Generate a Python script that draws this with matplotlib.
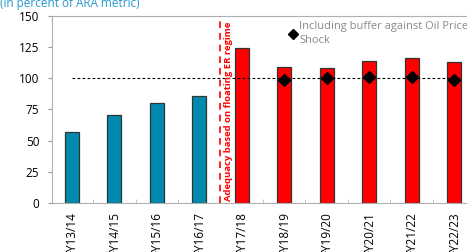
import matplotlib
matplotlib.use("Agg")
from matplotlib import pyplot as plt
import numpy as np

plt.rcParams['font.family'] = ['Open Sans', 'DejaVu Sans']

years = ["FY13/14", "FY14/15", "FY15/16", "FY16/17", "FY17/18",
         "FY18/19", "FY19/20", "FY20/21", "FY21/22", "FY22/23"]
fixed_er = [56.7, 70.5, 80.3, 85.8]
floating_er = [124, 109, 108, 113.5, 116, 113]
buffer_vals = [99, 100.6, 100.8, 101.4, 98.8]
ref_level = [100] * len(years)

TEAL = "#008BAE"
RED = "#FF0000"

fig = plt.figure(figsize=(4.67, 2.52), dpi=100)
ax = fig.add_axes([0.111, 0.194, 0.904, 0.743])

x = np.arange(len(years))
ax.bar(x[:4], fixed_er, width=0.33, color=TEAL, edgecolor="#333333", linewidth=0.9, zorder=2)
ax.bar(x[4:], floating_er, width=0.33, color=RED, edgecolor="#333333", linewidth=0.9, zorder=2)
ax.plot(np.append(x, 9.15), ref_level + [100], color="black", linestyle=(0, (2.5, 2)),
        linewidth=0.8, zorder=3)
ax.plot(x[5:], buffer_vals, linestyle="none", marker="D", markersize=6,
        color="black", zorder=4, label="Including buffer against Oil Price\nShock")

ax.axvline(3.5, color=RED, linestyle=(0, (4, 3)), linewidth=1.2, zorder=3)
ax.text(3.7, 1.5, "Adequacy based on floating ER regime", rotation=90, color=RED,
        fontsize=6.8, fontweight="bold", ha="center", va="bottom")

ax.set_xlim(-0.47, 9.47)
ax.set_ylim(0, 150)
ax.set_yticks([0, 25, 50, 75, 100, 125, 150])
ax.set_xticks(x)
ax.set_xticklabels(years, rotation=90, fontsize=8.5)
ax.set_xticks(x[:-1] + 0.5, minor=True)
ax.tick_params(axis="x", which="major", length=0, pad=6)
ax.tick_params(axis="x", which="minor", direction="in", length=3, color="#bbbbbb")
ax.tick_params(axis="y", labelsize=8.5, length=3, color="#999999", pad=6)

for side in ["left", "bottom", "top"]:
    ax.spines[side].set_color("#b0b0b0")
ax.spines["right"].set_visible(False)

leg = ax.legend(loc="upper left", bbox_to_anchor=(0.555, 0.995), frameon=False,
                fontsize=8, handlelength=0.5, handletextpad=0.3, borderaxespad=0,
                markerscale=0.8)
for t in leg.get_texts():
    t.set_color("#888888")
    t.set_linespacing(1.35)

fig.text(0.0, 0.985, "(in percent of ARA metric)", color="#2597CF", fontsize=8.5, va="center")

plt.savefig("out.png", dpi=100)
